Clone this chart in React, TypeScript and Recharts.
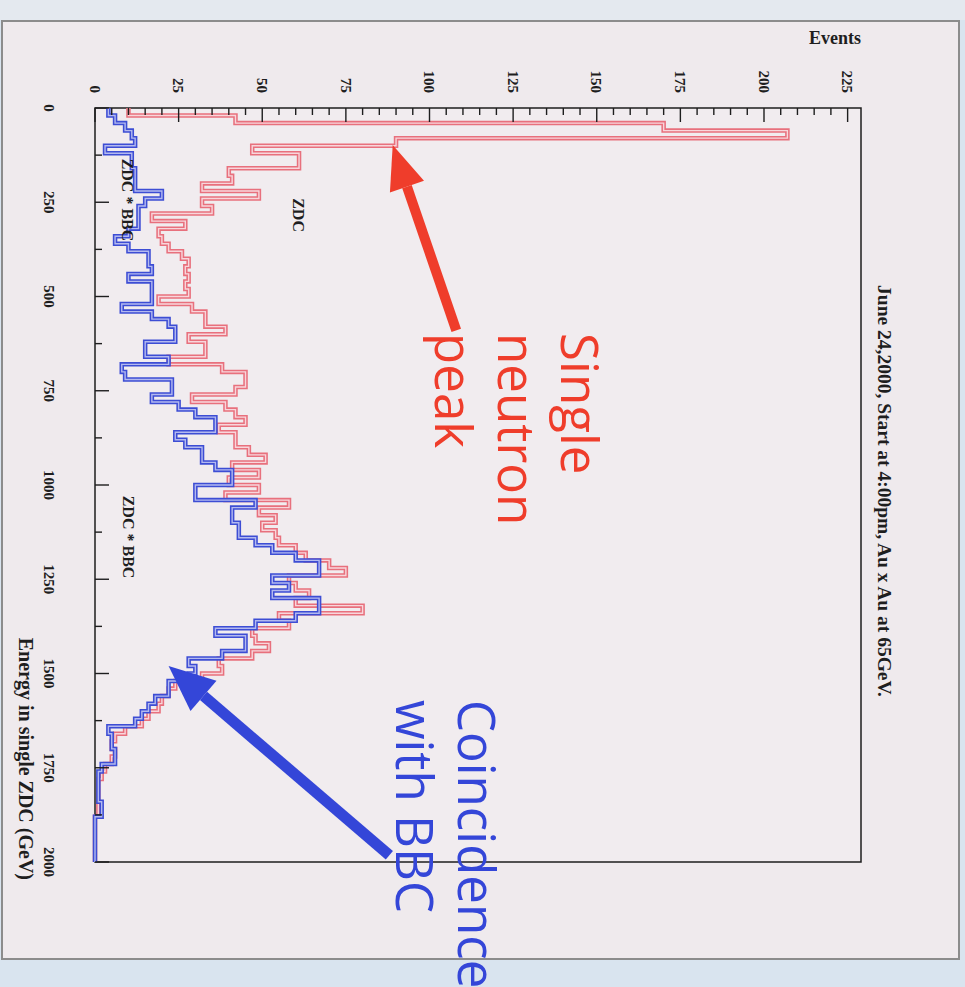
import React from 'react';
import {
    ComposedChart,
    Line,
    XAxis,
    YAxis,
    ReferenceArea,
    ReferenceLine,
    ReferenceDot,
} from 'recharts';

const W = 965;
const H = 987;
const PLOT_LEFT = 95;
const PLOT_TOP = 108;
const PLOT_RIGHT = 861;
const PLOT_BOTTOM = 862;

const INK = '#1e1e1e';
const ZDC_EDGE = '#e8707d';
const ZDC_CORE = '#f8d6db';
const BBC_EDGE = '#3d4dd4';
const BBC_CORE = '#b3b9ef';
const RED_NOTE = '#ef3d2b';
const BLUE_NOTE = '#3446d8';
const SERIF = '"Liberation Serif", "DejaVu Serif", serif';

// lower edge of each 20 GeV bin
const binEdges = [
    0, 20, 40, 60, 80, 100, 120, 140, 160, 180,
    200, 220, 240, 260, 280, 300, 320, 340, 360, 380,
    400, 420, 440, 460, 480, 500, 520, 540, 560, 580,
    600, 620, 640, 660, 680, 700, 720, 740, 760, 780,
    800, 820, 840, 860, 880, 900, 920, 940, 960, 980,
    1000, 1020, 1040, 1060, 1080, 1100, 1120, 1140, 1160, 1180,
    1200, 1220, 1240, 1260, 1280, 1300, 1320, 1340, 1360, 1380,
    1400, 1420, 1440, 1460, 1480, 1500, 1520, 1540, 1560, 1580,
    1600, 1620, 1640, 1660, 1680, 1700, 1720, 1740, 1760, 1780,
    1800, 1820, 1840, 1860, 1880, 1900, 1920, 1940, 1960, 1980,
];
const ENERGY_MAX = 2000;

// ZDC alone (red)
const zdcCounts = [
    10, 42, 170, 207, 90, 47, 61, 61, 40, 41,
    32, 49, 32, 35, 17, 27, 19, 20, 22, 26,
    28, 27, 28, 27, 28, 19, 29, 33, 33, 39,
    28, 33, 33, 22, 38, 45, 45, 42, 29, 39,
    42, 45, 37, 42, 42, 46, 51, 41, 49, 40,
    49, 39, 58, 49, 54, 50, 54, 55, 60, 63,
    70, 75, 58, 60, 64, 60, 80, 55, 58, 47,
    48, 52, 47, 37, 38, 32, 24, 22, 20, 19,
    16, 14, 9, 6, 5, 6, 5, 3, 2, 1,
    1, 1, 1, 1, 0, 0, 0, 0, 0, 0,
];

// ZDC * BBC coincidence (blue)
const bbcCounts = [
    4, 6, 9, 11, 12, 3, 11, 11, 12, 12,
    12, 20, 15, 13, 13, 13, 10, 6, 10, 16,
    16, 17, 10, 17, 17, 17, 8, 17, 22, 24,
    24, 15, 15, 22, 8, 9, 23, 23, 17, 25,
    30, 36, 36, 24, 27, 32, 32, 36, 41, 41,
    30, 30, 48, 41, 41, 43, 43, 48, 53, 60,
    67, 67, 53, 58, 53, 67, 67, 60, 48, 36,
    45, 45, 38, 28, 30, 28, 22, 22, 18, 16,
    14, 12, 4, 5, 5, 6, 6, 2, 1, 1,
    1, 1, 2, 2, 0, 0, 0, 0, 0, 0,
];

const eventTicks = [
    0, 5, 10, 15, 20, 25, 30, 35, 40, 45, 50, 55, 60, 65, 70, 75, 80, 85, 90, 95,
    100, 105, 110, 115, 120, 125, 130, 135, 140, 145, 150, 155, 160, 165, 170, 175,
    180, 185, 190, 195, 200, 205, 210, 215, 220, 225,
];
const eventLabels = [0, 25, 50, 75, 100, 125, 150, 175, 200, 225];
const energyTicks = [
    0, 125, 250, 375, 500, 625, 750, 875, 1000, 1125, 1250, 1375, 1500, 1625, 1750, 1875, 2000,
];
const energyLabels = [0, 250, 500, 750, 1000, 1250, 1500, 1750, 2000];
const EVENTS_MAX = 229;

// histogram rows; a closing point at 2000 GeV finishes the last bin
const histData = binEdges.map((e, i) => ({
    energy: e,
    zdc: zdcCounts[i],
    zdcCore: zdcCounts[i],
    bbc: bbcCounts[i],
    bbcCore: bbcCounts[i],
}));
histData.push({
    energy: ENERGY_MAX,
    zdc: zdcCounts[zdcCounts.length - 1],
    zdcCore: zdcCounts[zdcCounts.length - 1],
    bbc: bbcCounts[bbcCounts.length - 1],
    bbcCore: bbcCounts[bbcCounts.length - 1],
});

// eslint-disable-next-line @typescript-eslint/no-explicit-any
const EventTick = ({ x, payload }: any) => {
    const v = payload.value;
    const major = eventLabels.includes(v);
    return (
        <g>
            <line x1={x} y1={PLOT_TOP} x2={x} y2={PLOT_TOP + (major ? 14 : 7)} stroke={INK} strokeWidth={1.4} />
            {major && (
                <text
                    x={x}
                    y={93}
                    dy="0.35em"
                    transform={`rotate(90, ${x}, 93)`}
                    textAnchor="end"
                    fontFamily={SERIF}
                    fontWeight={700}
                    fontSize={15}
                    fill={INK}
                >
                    {v}
                </text>
            )}
        </g>
    );
};

// eslint-disable-next-line @typescript-eslint/no-explicit-any
const EnergyTick = ({ y, payload }: any) => {
    const v = payload.value;
    const major = energyLabels.includes(v);
    return (
        <g>
            <line x1={PLOT_LEFT} y1={y} x2={PLOT_LEFT + (major ? 14 : 7)} y2={y} stroke={INK} strokeWidth={1.4} />
            {major && (
                <text
                    x={49}
                    y={y}
                    dy="0.35em"
                    transform={`rotate(90, 49, ${y})`}
                    textAnchor="middle"
                    fontFamily={SERIF}
                    fontWeight={700}
                    fontSize={15}
                    fill={INK}
                >
                    {v}
                </text>
            )}
        </g>
    );
};

// eslint-disable-next-line @typescript-eslint/no-explicit-any
const arrowShape = (color: string, width: number, headLen: number, headHalf: number) => (p: any) => {
    const { x1, y1, x2, y2 } = p;
    const dx = x2 - x1;
    const dy = y2 - y1;
    const len = Math.sqrt(dx * dx + dy * dy);
    const ux = dx / len;
    const uy = dy / len;
    const bx = x2 - ux * headLen;
    const by = y2 - uy * headLen;
    return (
        <g>
            <line x1={x1} y1={y1} x2={bx} y2={by} stroke={color} strokeWidth={width} />
            <polygon
                points={`${x2},${y2} ${bx - uy * headHalf},${by + ux * headHalf} ${bx + uy * headHalf},${by - ux * headHalf}`}
                fill={color}
            />
        </g>
    );
};

// rotated note text, lines stacked to the left
const noteShape = (lines: string[], color: string, size: number, gap: number) =>
    // eslint-disable-next-line @typescript-eslint/no-explicit-any
    (p: any) => (
        <g transform={`translate(${p.cx}, ${p.cy}) rotate(90)`}>
            <text x={0} y={0} fontFamily='"Open Sans", "DejaVu Sans", sans-serif' fontSize={size} fill={color}>
                {lines.map((l, i) => (
                    <tspan key={i} x={0} y={i * gap}>
                        {l}
                    </tspan>
                ))}
            </text>
        </g>
    );

const labelShape = (label: string) =>
    // eslint-disable-next-line @typescript-eslint/no-explicit-any
    (p: any) => (
        <text
            x={p.cx}
            y={p.cy}
            dy="0.35em"
            transform={`rotate(90, ${p.cx}, ${p.cy})`}
            textAnchor="middle"
            fontFamily={SERIF}
            fontWeight={700}
            fontSize={16}
            fill={INK}
        >
            {label}
        </text>
    );

export default function App() {
    return (
        <div
            style={{
                position: 'absolute',
                left: 0,
                top: 0,
                width: W,
                height: H,
                overflow: 'hidden',
                background: '#d9e4ef',
            }}
        >
            <div style={{ position: 'absolute', left: 0, top: 0, width: W, height: 20, background: '#e4e9ef' }} />
            <div
                style={{
                    position: 'absolute',
                    left: 1,
                    top: 20,
                    width: 955,
                    height: 936,
                    background: '#efeaed',
                    border: '2px solid #8c8c8c',
                }}
            />
            <div style={{ position: 'absolute', left: 0, top: 0 }}>
                <ComposedChart
                    width={W}
                    height={H}
                    data={histData}
                    layout="vertical"
                    margin={{ top: PLOT_TOP - 60, left: PLOT_LEFT - 60, right: W - PLOT_RIGHT, bottom: H - PLOT_BOTTOM }}
                >
                    <XAxis
                        type="number"
                        orientation="top"
                        height={60}
                        domain={[0, EVENTS_MAX]}
                        ticks={eventTicks}
                        interval={0}
                        axisLine={false}
                        tickLine={false}
                        tick={(p) => <EventTick {...p} />}
                    />
                    <YAxis
                        type="number"
                        dataKey="energy"
                        width={60}
                        domain={[0, ENERGY_MAX]}
                        ticks={energyTicks}
                        interval={0}
                        axisLine={false}
                        tickLine={false}
                        tick={(p) => <EnergyTick {...p} />}
                    />
                    <ReferenceArea
                        x1={0}
                        x2={EVENTS_MAX}
                        y1={0}
                        y2={ENERGY_MAX}
                        fill="#f1ecef"
                        fillOpacity={1}
                        stroke={INK}
                        strokeWidth={1.5}
                    />
                    <Line dataKey="zdc" type="stepBefore" stroke={ZDC_EDGE} strokeWidth={4.5} dot={false} isAnimationActive={false} />
                    <Line dataKey="zdcCore" type="stepBefore" stroke={ZDC_CORE} strokeWidth={1.4} dot={false} isAnimationActive={false} />
                    <Line dataKey="bbc" type="stepBefore" stroke={BBC_EDGE} strokeWidth={4.5} dot={false} isAnimationActive={false} />
                    <Line dataKey="bbcCore" type="stepBefore" stroke={BBC_CORE} strokeWidth={1.4} dot={false} isAnimationActive={false} />
                    <ReferenceDot x={61} y={284} r={0} ifOverflow="visible" shape={labelShape('ZDC')} />
                    <ReferenceDot x={9.6} y={244} r={0} ifOverflow="visible" shape={labelShape('ZDC * BBC')} />
                    <ReferenceDot x={9.9} y={1138} r={0} ifOverflow="visible" shape={labelShape('ZDC * BBC')} />
                    <ReferenceDot x={139.4} y={597} r={0} ifOverflow="visible" shape={noteShape(['Single', 'neutron', 'peak'], RED_NOTE, 51, 63)} />
                    <ReferenceDot x={108.4} y={1570} r={0} ifOverflow="visible" shape={noteShape(['Coincidence', 'with BBC'], BLUE_NOTE, 51, 62)} />
                    <ReferenceLine
                        segment={[{ x: 108, y: 590 }, { x: 89, y: 98 }]}
                        ifOverflow="visible"
                        shape={arrowShape(RED_NOTE, 10, 44, 18)}
                    />
                    <ReferenceLine
                        segment={[{ x: 88, y: 1982 }, { x: 22, y: 1480 }]}
                        ifOverflow="visible"
                        shape={arrowShape(BLUE_NOTE, 11, 46, 20)}
                    />
                </ComposedChart>
            </div>
            <svg width={W} height={H} style={{ position: 'absolute', left: 0, top: 0, pointerEvents: 'none' }}>
                <text x={835} y={44} textAnchor="middle" fontFamily={SERIF} fontWeight={700} fontSize={18} fill={INK}>
                    Events
                </text>
                <text
                    x={26}
                    y={880}
                    dy="0.35em"
                    transform="rotate(90, 26, 880)"
                    textAnchor="end"
                    fontFamily={SERIF}
                    fontWeight={700}
                    fontSize={20}
                    fill={INK}
                >
                    Energy in single ZDC (GeV)
                </text>
                <text
                    x={885}
                    y={491}
                    dy="0.35em"
                    transform="rotate(90, 885, 491)"
                    textAnchor="middle"
                    fontFamily={SERIF}
                    fontWeight={700}
                    fontSize={19.5}
                    fill={INK}
                >
                    June 24,2000, Start at 4:00pm, Au x Au at 65GeV.
                </text>
            </svg>
        </div>
    );
}
